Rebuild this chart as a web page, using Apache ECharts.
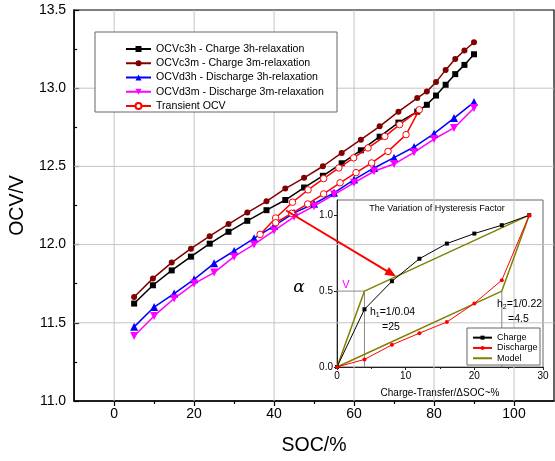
<!DOCTYPE html>
<html><head><meta charset="utf-8">
<script src="https://cdn.jsdelivr.net/npm/echarts@6/dist/echarts.min.js"></script>
<style>html,body{margin:0;padding:0;background:#fff}#c{width:555px;height:461px}</style>
</head><body><div id="c"></div>
<script>
// ---- main chart data ----
const socCharge = [5, 9.7, 14.4, 19.2, 23.9, 28.6, 33.3, 38.1, 42.8, 47.5, 52.2, 56.9, 61.7, 66.4, 71.1, 75.8, 78.2, 80.5, 82.9, 85.3, 87.6, 90];
const ocvC3h = [11.623, 11.740, 11.835, 11.923, 12.006, 12.082, 12.152, 12.220, 12.285, 12.365, 12.44, 12.52, 12.603, 12.69, 12.78, 12.85, 12.894, 12.953, 13.022, 13.09, 13.149, 13.217];
const ocvC3m = [11.665, 11.784, 11.885, 11.974, 12.054, 12.131, 12.205, 12.277, 12.358, 12.427, 12.501, 12.586, 12.671, 12.756, 12.85, 12.937, 12.979, 13.039, 13.117, 13.186, 13.241, 13.294];
const socDischarge = [5, 10, 15, 20, 25, 30, 35, 40, 45, 50, 55, 60, 65, 70, 75, 80, 85, 90];
const ocvD3h = [11.474, 11.601, 11.687, 11.778, 11.880, 11.959, 12.040, 12.12, 12.203, 12.261, 12.331, 12.416, 12.490, 12.556, 12.624, 12.709, 12.809, 12.911];
const ocvD3m = [11.416, 11.544, 11.655, 11.751, 11.821, 11.923, 12.001, 12.09, 12.178, 12.246, 12.320, 12.395, 12.469, 12.515, 12.59, 12.675, 12.746, 12.873];
const socTransient = [36.5, 40.4, 44.6, 48.5, 52.4, 56.2, 59.9, 63.5, 67.7, 71.4, 76.3, 73.0, 68.5, 64.4, 60.5, 56.5, 52.4, 48.4, 44.4, 40.4];
const ocvTransient = [12.065, 12.17, 12.271, 12.35, 12.422, 12.49, 12.555, 12.618, 12.692, 12.767, 12.862, 12.703, 12.596, 12.522, 12.46, 12.395, 12.324, 12.26, 12.2, 12.14];
const xMajorTicks = [0, 20, 40, 60, 80, 100];
const xMinorTicks = [10, 30, 50, 70, 90];
const yGridValues = [11.5, 12.0, 12.5, 13.0];
const mainNames = ['OCVc3h - Charge 3h-relaxation', 'OCVc3m - Charge 3m-relaxation', 'OCVd3h - Discharge 3h-relaxation', 'OCVd3m - Discharge 3m-relaxation', 'Transient OCV'];

// ---- inset data ----
const insetX = [0, 4, 8, 12, 16, 20, 24, 28];
const alphaCharge = [0, 0.38, 0.565, 0.713, 0.813, 0.879, 0.934, 1.0];
const alphaDischarge = [0, 0.05, 0.146, 0.223, 0.296, 0.419, 0.572, 1.0];
const modelX = [0, 4, 28, 24, 0];
const modelY = [0, 0.5, 1.0, 0.5, 0];
const insetYTicks = [0, 0.5, 1.0];
const arrowFrom = [43, 12.218];   // main chart (SOC, OCV)
const arrowTo = [8.6, 0.596];     // inset (ΔSOC, alpha)

const F = '"Liberation Sans", Arial, sans-serif';
const pairs = (xs, ys) => xs.map((x, i) => [x, ys[i]]);

const chart = echarts.init(document.getElementById('c'));

function mainSeries(name, xs, ys, color, symbol, size, extra) {
  return Object.assign({
    name, type: 'line', xAxisIndex: 0, yAxisIndex: 0,
    data: pairs(xs, ys), symbol, symbolSize: size,
    lineStyle: { color, width: 1.5 }, itemStyle: { color },
    animation: false, z: 3
  }, extra || {});
}

const option = {
  animation: false,
  textStyle: { fontFamily: F },
  grid: [
    { left: 73, top: 10, right: 1, bottom: 59, show: true, borderColor: '#000', borderWidth: 1.2, backgroundColor: 'rgba(0,0,0,0)' },
    { left: 337, top: 200, width: 206, height: 167, show: true, borderColor: '#666', borderWidth: 1, backgroundColor: 'rgba(0,0,0,0)' }
  ],
  xAxis: [
    { type: 'value', gridIndex: 0, min: -10, max: 110, position: 'bottom',
      axisLine: { show: true, onZero: false, lineStyle: { color: '#000', width: 1.5 } },
      axisTick: { show: true, customValues: xMajorTicks, length: 5, lineStyle: { color: '#000', width: 1.2 } },
      axisLabel: { customValues: xMajorTicks, fontSize: 14, color: '#000', margin: 6, fontFamily: F },
      splitLine: { show: false },
      name: 'SOC/%', nameLocation: 'middle', nameGap: 35,
      nameTextStyle: { fontSize: 19.5, color: '#000', fontFamily: F } },
    { type: 'value', gridIndex: 0, min: -10, max: 110, position: 'bottom',
      axisLine: { show: false, onZero: false },
      axisTick: { show: true, customValues: xMinorTicks, length: 3, lineStyle: { color: '#000', width: 1.2 } },
      axisLabel: { show: false }, splitLine: { show: false } },
    { type: 'value', gridIndex: 1, min: 0, max: 30, interval: 10,
      axisLine: { show: true, onZero: false, lineStyle: { color: '#222', width: 1 } },
      axisTick: { show: true, length: 3, lineStyle: { color: '#222' } },
      minorTick: { show: true, splitNumber: 2, length: 2, lineStyle: { color: '#222' } },
      axisLabel: { fontSize: 10, color: '#000', margin: 4, fontFamily: F },
      splitLine: { show: false },
      name: 'Charge-Transfer/\u0394SOC~%', nameLocation: 'middle', nameGap: 21,
      nameTextStyle: { fontSize: 10, color: '#000', fontFamily: F } }
  ],
  yAxis: [
    { type: 'value', gridIndex: 0, min: 11, max: 13.5, interval: 0.5,
      axisLine: { show: true, onZero: false, lineStyle: { color: '#000', width: 1.5 } },
      axisTick: { show: true, inside: true, length: 5, lineStyle: { color: '#000', width: 1.2 } },
      minorTick: { show: true, splitNumber: 2, length: 3, lineStyle: { color: '#000', width: 1.2 } },
      axisLabel: { fontSize: 14, color: '#000', margin: 8, fontFamily: F, formatter: v => v.toFixed(1) },
      splitLine: { show: false },
      name: 'OCV/V', nameLocation: 'middle', nameGap: 38, nameRotate: 90,
      nameTextStyle: { fontSize: 19.5, color: '#000', fontFamily: F } },
    { type: 'value', gridIndex: 1, min: 0, max: 1.1,
      axisLine: { show: true, onZero: false, lineStyle: { color: '#222', width: 1 } },
      axisTick: { show: true, customValues: insetYTicks, length: 3, lineStyle: { color: '#222' } },
      axisLabel: { customValues: insetYTicks, fontSize: 10, color: '#000', margin: 4, fontFamily: F, formatter: v => v.toFixed(1) },
      splitLine: { show: false } }
  ],
  legend: [
    { data: mainNames, orient: 'vertical', left: 125, top: 42, padding: 0,
      itemWidth: 25, itemHeight: 7.5, itemGap: 0.25, selectedMode: false, z: 6,
      textStyle: { fontSize: 10.6, lineHeight: 14, color: '#000', fontFamily: F } },
    { data: ['Charge', 'Discharge', { name: 'Model', itemStyle: { color: 'rgba(0,0,0,0)', borderWidth: 0, opacity: 0 } }],
      orient: 'vertical', left: 472, top: 332.5, padding: 0,
      itemWidth: 19, itemHeight: 5, itemGap: 0, selectedMode: false, z: 6,
      textStyle: { fontSize: 9, lineHeight: 10.3, color: '#000', fontFamily: F } }
  ],
  series: [
    { name: 'gridV', type: 'line', xAxisIndex: 0, yAxisIndex: 0, silent: true, z: 1,
      symbol: 'none', connectNulls: false,
      data: xMajorTicks.flatMap(v => [[v, 11], [v, 13.5], [null, null]]),
      lineStyle: { color: '#c4c4c4', width: 1, type: 'solid' } },
    { name: 'gridH', type: 'line', xAxisIndex: 0, yAxisIndex: 0, silent: true, z: 1,
      symbol: 'none', connectNulls: false,
      data: yGridValues.flatMap(v => [[-10, v], [110, v], [null, null]]),
      lineStyle: { color: '#c4c4c4', width: 1, type: 'solid' } },
    mainSeries(mainNames[0], socCharge, ocvC3h, '#000000', 'rect', 6),
    mainSeries(mainNames[1], socCharge, ocvC3m, '#800000', 'circle', 6),
    mainSeries(mainNames[2], socDischarge, ocvD3h, '#0000ff', 'triangle', 8),
    mainSeries(mainNames[3], socDischarge, ocvD3m, '#ff00ff', 'triangle', 8, { symbolRotate: 180 }),
    mainSeries(mainNames[4], socTransient, ocvTransient, '#ff0000', 'circle', 6.5,
      { itemStyle: { color: '#ffffff', borderColor: '#ff0000', borderWidth: 1 }, z: 4 }),
    { name: 'Model', type: 'line', xAxisIndex: 2, yAxisIndex: 1, data: pairs(modelX, modelY),
      symbol: 'none', lineStyle: { color: '#808000', width: 1.5 }, itemStyle: { color: '#808000' }, z: 3 },
    { name: 'guideA', type: 'line', xAxisIndex: 2, yAxisIndex: 1,
      data: [[modelX[0], modelY[1]], [modelX[1], modelY[1]], [modelX[1], modelY[0]]],
      symbol: 'none', lineStyle: { color: '#888888', width: 1 }, silent: true, z: 2 },
    { name: 'guideB', type: 'line', xAxisIndex: 2, yAxisIndex: 1,
      data: [[modelX[3], modelY[3]], [modelX[3], modelY[0]]],
      symbol: 'none', lineStyle: { color: '#888888', width: 1 }, silent: true, z: 2 },
    { name: 'Charge', type: 'line', xAxisIndex: 2, yAxisIndex: 1, data: pairs(insetX, alphaCharge),
      symbol: 'rect', symbolSize: 4, lineStyle: { color: '#000', width: 1 }, itemStyle: { color: '#000' }, z: 4 },
    { name: 'Discharge', type: 'line', xAxisIndex: 2, yAxisIndex: 1, data: pairs(insetX, alphaDischarge),
      symbol: 'circle', symbolSize: 4, lineStyle: { color: '#ff0000', width: 1 }, itemStyle: { color: '#ff0000' }, z: 4 }
  ]
};
chart.setOption(option);

const p1 = chart.convertToPixel({ gridIndex: 0 }, arrowFrom);
const p2 = chart.convertToPixel({ gridIndex: 1 }, arrowTo);
const dx = p2[0] - p1[0], dy = p2[1] - p1[1];
const L = Math.sqrt(dx * dx + dy * dy), ux = dx / L, uy = dy / L;
const headLen = 11, headW = 4.5;
const bx = p2[0] - ux * headLen, by = p2[1] - uy * headLen;

const txt = (x, y, text, extra) => ({
  type: 'text', x, y, z: 10,
  style: Object.assign({ text, fill: '#000', font: '10.5px ' + F, textAlign: 'left', textVerticalAlign: 'middle' }, extra || {})
});

chart.setOption({
  graphic: [
    { type: 'rect', z: 3, shape: { x: 95, y: 32, width: 242, height: 80 },
      style: { fill: '#fff', stroke: '#666', lineWidth: 1 } },
    { type: 'rect', z: 3, shape: { x: 467, y: 328, width: 73, height: 37 },
      style: { fill: '#fff', stroke: '#666', lineWidth: 1 } },
    { type: 'line', z: 9, shape: { x1: p1[0], y1: p1[1], x2: bx + ux * 1, y2: by + uy * 1 },
      style: { stroke: '#ff0000', lineWidth: 2 } },
    { type: 'polygon', z: 9, shape: { points: [[p2[0], p2[1]], [bx - uy * headW, by + ux * headW], [bx + uy * headW, by - ux * headW]] },
      style: { fill: '#ff0000' } },
    txt(437, 209, 'The Variation of Hysteresis Factor', { font: '9px ' + F, textAlign: 'center' }),
    { type: 'text', x: 370, y: 312, z: 10, style: { text: '{a|h}{b|1}{a|=1/0.04}', textVerticalAlign: 'middle',
      rich: { a: { fontSize: 10.5, fontFamily: F, fill: '#000', color: '#000' }, b: { fontSize: 7, fontFamily: F, fill: '#000', color: '#000', padding: [6, 0, 0, 0] } } } },
    txt(382, 327, '=25'),
    { type: 'text', x: 497, y: 304, z: 10, style: { text: '{a|h}{b|2}{a|=1/0.22}', textVerticalAlign: 'middle',
      rich: { a: { fontSize: 10.5, fontFamily: F, fill: '#000', color: '#000' }, b: { fontSize: 7, fontFamily: F, fill: '#000', color: '#000', padding: [6, 0, 0, 0] } } } },
    txt(508, 319, '=4.5'),
    txt(299, 288, '\u03b1', { font: 'italic 17px "DejaVu Serif", "Liberation Serif", serif', textAlign: 'center' }),
    txt(346, 285, 'V', { font: '11px ' + F, fill: '#ff00ff', textAlign: 'center' })
  ]
});
</script>
</body></html>
